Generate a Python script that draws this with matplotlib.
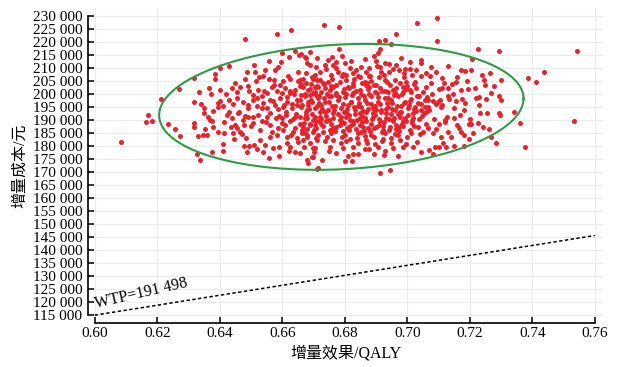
"""
增量成本-效果散点图 (概率敏感性分析)
- 红点: 蒙特卡洛模拟结果, 绿色椭圆: 置信区域, 虚线: WTP 阈值
"""
import numpy as np
import matplotlib
matplotlib.use("Agg")
import matplotlib.pyplot as plt
from matplotlib.ticker import FuncFormatter

plt.rcParams["font.family"] = ["Liberation Serif", "Noto Sans CJK SC"]

# (增量效果 QALY, 增量成本 千元) -- 估计值
left_pts = [
    (0.6480, 221.2), (0.6583, 223.2), (0.6629, 224.6), (0.6640, 216.5), (0.6655, 214.9),
    (0.6673, 214.1), (0.6620, 214.1), (0.6558, 212.6), (0.6596, 212.3), (0.6678, 211.8),
    (0.6431, 210.8), (0.6401, 210.0), (0.6577, 209.2), (0.6513, 208.3), (0.6487, 208.3),
    (0.6385, 207.8), (0.6318, 206.2), (0.6384, 205.9), (0.6524, 206.4), (0.6539, 206.7),
    (0.6556, 205.6), (0.6573, 205.4), (0.6603, 205.0), (0.6624, 205.8), (0.6651, 205.1),
    (0.6667, 205.6), (0.6694, 206.4), (0.6710, 205.4), (0.6270, 201.8), (0.6212, 198.0),
    (0.6364, 202.2), (0.6333, 200.6), (0.6400, 201.4), (0.6371, 199.9), (0.6318, 197.0),
    (0.6439, 202.2), (0.6454, 200.9), (0.6464, 202.8), (0.6491, 203.1), (0.6494, 201.3),
    (0.6507, 199.6), (0.6523, 201.5), (0.6534, 199.0), (0.6550, 200.3), (0.6566, 202.6),
    (0.6582, 201.3), (0.6592, 203.5), (0.6608, 202.2), (0.6624, 200.3), (0.6640, 201.5),
    (0.6656, 203.1), (0.6672, 200.0), (0.6688, 201.8), (0.6704, 200.9), (0.6715, 202.8),
    (0.6348, 194.7), (0.6349, 192.6), (0.6363, 191.0), (0.6369, 190.0), (0.6379, 193.5),
    (0.6394, 195.1), (0.6400, 197.3), (0.6411, 195.4), (0.6430, 197.7), (0.6443, 196.1),
    (0.6456, 198.3), (0.6475, 197.0), (0.6491, 194.5), (0.6507, 197.7), (0.6518, 195.4),
    (0.6539, 196.4), (0.6550, 194.5), (0.6562, 197.7), (0.6576, 195.8), (0.6592, 198.3),
    (0.6603, 195.1), (0.6616, 197.0), (0.6630, 194.5), (0.6646, 197.7), (0.6662, 195.8),
    (0.6678, 193.8), (0.6694, 197.0), (0.6710, 195.4), (0.6170, 191.9), (0.6165, 189.2),
    (0.6184, 189.5), (0.6234, 188.3), (0.6257, 186.5), (0.6273, 183.7), (0.6318, 188.7),
    (0.6318, 187.2), (0.6330, 183.7), (0.6346, 184.0), (0.6360, 184.0), (0.6327, 176.9),
    (0.6337, 174.5), (0.6376, 177.6), (0.6409, 178.2), (0.6410, 180.9), (0.6084, 181.4),
    (0.6379, 187.4), (0.6395, 185.5), (0.6413, 185.0), (0.6437, 187.4), (0.6449, 188.2),
    (0.6443, 185.1), (0.6464, 185.3), (0.6483, 183.1), (0.6478, 180.0), (0.6495, 180.1),
    (0.6511, 180.5), (0.6486, 177.8), (0.6518, 178.7), (0.6528, 182.3), (0.6556, 175.5),
    (0.6538, 177.8), (0.6544, 180.2), (0.6571, 179.1), (0.6590, 179.7), (0.6614, 181.0),
    (0.6656, 177.4), (0.6678, 174.6), (0.6694, 175.9), (0.6710, 171.3), (0.6422, 191.9),
    (0.6438, 190.6), (0.6459, 192.6), (0.6475, 190.0), (0.6491, 191.3), (0.6507, 188.7),
    (0.6523, 191.9), (0.6534, 189.4), (0.6550, 191.3), (0.6562, 188.1), (0.6579, 190.6),
    (0.6598, 188.7), (0.6611, 191.9), (0.6624, 189.4), (0.6640, 191.3), (0.6656, 188.5),
    (0.6672, 190.6), (0.6688, 188.5), (0.6704, 191.3), (0.6718, 189.4), (0.6566, 185.5),
    (0.6582, 184.2), (0.6601, 186.2), (0.6616, 183.6), (0.6633, 185.5), (0.6646, 182.9),
    (0.6662, 185.1), (0.6678, 183.3), (0.6697, 185.5), (0.6712, 182.3), (0.6624, 179.7),
    (0.6640, 177.8), (0.6669, 179.7), (0.6699, 179.1),
]

right_pts = [
    (0.6732, 226.3), (0.6781, 225.6), (0.7032, 227.3), (0.7096, 229.0), (0.6964, 223.1),
    (0.7096, 220.5), (0.6910, 220.5), (0.6930, 220.9), (0.6948, 219.1), (0.6782, 217.3),
    (0.6914, 217.2), (0.7226, 217.4), (0.7293, 216.5), (0.7543, 216.3), (0.7208, 213.5),
    (0.7436, 208.4), (0.7387, 206.0), (0.7411, 204.5), (0.7535, 189.7), (0.7376, 179.7),
    (0.7362, 188.8), (0.7340, 193.0), (0.7294, 199.0), (0.7300, 197.6), (0.7292, 192.6),
    (0.7296, 191.9), (0.7300, 205.5), (0.7265, 208.1), (0.7239, 207.2), (0.7244, 205.4),
    (0.7248, 203.3), (0.7276, 203.1), (0.7283, 181.3), (0.7267, 183.6), (0.7260, 186.5),
    (0.7241, 187.3), (0.7232, 192.6), (0.7219, 198.6), (0.7229, 198.7), (0.7252, 198.2),
    (0.7268, 200.3), (0.7194, 201.8), (0.7186, 208.8), (0.7171, 209.1), (0.7203, 209.2),
    (0.7131, 210.9), (0.7197, 188.6), (0.7204, 188.6), (0.7225, 188.8), (0.7196, 182.6),
    (0.7180, 180.1), (0.7150, 180.0), (0.7125, 179.5), (0.7101, 179.6), (0.7090, 179.6),
    (0.7071, 178.5), (0.7081, 177.0), (0.7045, 177.8), (0.7018, 179.7), (0.6945, 170.9),
    (0.6913, 169.5), (0.6927, 176.5), (0.6893, 176.9), (0.6877, 178.7), (0.6824, 174.2),
    (0.6802, 174.2), (0.6842, 176.9), (0.6826, 176.9), (0.6772, 177.4), (0.6726, 174.6),
    (0.6681, 173.4), (0.6713, 171.6), (0.6697, 175.9), (0.7128, 191.1), (0.7148, 190.9),
    (0.7168, 191.9), (0.7181, 193.8), (0.7120, 189.9), (0.7122, 189.0), (0.7165, 186.9),
    (0.7172, 185.3), (0.7131, 185.3), (0.7109, 183.6), (0.7103, 188.3), (0.7083, 185.0),
    (0.7066, 187.0), (0.7035, 187.4), (0.7021, 187.7), (0.7104, 197.7), (0.7112, 202.4),
    (0.7118, 204.1), (0.7129, 202.2), (0.7143, 203.7), (0.7156, 204.4), (0.7173, 201.4),
    (0.7175, 198.1), (0.7157, 197.4), (0.7147, 199.9), (0.7129, 199.2), (0.7109, 194.9),
    (0.7099, 197.0), (0.7093, 196.3), (0.7081, 197.3), (0.7065, 197.7), (0.7061, 202.7),
    (0.7091, 208.3), (0.7061, 207.9), (0.7072, 207.0), (0.7044, 206.7), (0.7045, 211.8),
    (0.7016, 207.3), (0.7028, 209.1), (0.7008, 209.6), (0.6992, 209.5), (0.6988, 207.9),
    (0.6973, 209.1), (0.6953, 209.6), (0.6943, 208.3), (0.6928, 205.4), (0.6917, 208.4),
    (0.6911, 206.3), (0.6904, 210.8), (0.6899, 212.7), (0.6895, 214.5), (0.6879, 209.9),
    (0.6877, 207.0), (0.6885, 205.1), (0.6874, 201.9), (0.6869, 203.3), (0.6856, 204.2),
    (0.6836, 209.1), (0.6850, 206.5), (0.6827, 207.9), (0.6805, 207.2), (0.6811, 202.7),
    (0.6790, 206.8), (0.6771, 212.3), (0.6771, 209.9), (0.6758, 214.1), (0.6761, 211.2),
    (0.6737, 211.2), (0.6741, 209.4), (0.6720, 205.5), (0.6699, 205.9), (0.6677, 204.2),
    (0.6683, 201.5), (0.6675, 213.8), (0.6661, 215.4), (0.6800, 211.8), (0.6709, 210.5),
    (0.6688, 211.2), (0.6720, 208.6), (0.6853, 210.5), (0.6869, 208.6), (0.6928, 211.8),
    (0.6965, 211.2), (0.6677, 207.9), (0.6704, 207.3), (0.6757, 207.3), (0.6779, 208.6),
    (0.6816, 209.9), (0.6843, 206.7), (0.6880, 206.7), (0.6912, 210.5),
]

core_pts = [
    (0.6656, 205.4), (0.6704, 202.8), (0.6731, 204.1), (0.6747, 204.7), (0.6763, 202.6),
    (0.6784, 204.7), (0.6827, 204.1), (0.6944, 203.5), (0.6960, 205.4), (0.6976, 204.1),
    (0.6997, 204.7), (0.7029, 202.2), (0.7008, 201.5), (0.6987, 200.9), (0.6965, 202.2),
    (0.6939, 200.9), (0.6912, 202.2), (0.6896, 200.9), (0.6848, 201.5), (0.6827, 200.5),
    (0.6795, 200.9), (0.6773, 200.3), (0.6752, 201.5), (0.6725, 200.9), (0.6667, 202.8),
    (0.6709, 199.6), (0.6736, 202.2), (0.6805, 205.4), (0.6901, 203.5), (0.7024, 204.7),
    (0.7077, 204.1), (0.6656, 197.7), (0.6672, 199.0), (0.6693, 197.7), (0.6715, 198.3),
    (0.6736, 197.0), (0.6757, 199.0), (0.6779, 197.7), (0.6800, 198.7), (0.6821, 197.0),
    (0.6843, 198.3), (0.6864, 197.7), (0.6885, 199.0), (0.6907, 197.0), (0.6928, 198.3),
    (0.6949, 197.7), (0.6971, 199.0), (0.6992, 197.0), (0.7013, 198.0), (0.7035, 196.4),
    (0.7056, 197.7), (0.6661, 195.1), (0.6683, 195.8), (0.6704, 194.5), (0.6725, 195.8),
    (0.6747, 193.8), (0.6768, 195.4), (0.6789, 194.5), (0.6811, 195.8), (0.6832, 193.8),
    (0.6853, 195.1), (0.6875, 194.1), (0.6896, 195.4), (0.6917, 193.8), (0.6939, 195.1),
    (0.6960, 193.8), (0.6981, 195.4), (0.7003, 194.5), (0.7024, 195.1), (0.7045, 193.8),
    (0.7067, 195.1), (0.6677, 193.2), (0.6720, 193.2), (0.6763, 192.6), (0.6805, 193.2),
    (0.6848, 192.6), (0.6891, 192.8), (0.6933, 192.6), (0.6976, 193.2), (0.7019, 192.6),
    (0.7061, 193.2), (0.6656, 191.3), (0.6677, 191.9), (0.6699, 190.0), (0.6720, 191.3),
    (0.6741, 189.4), (0.6763, 190.6), (0.6784, 190.0), (0.6805, 191.3), (0.6827, 189.4),
    (0.6848, 190.6), (0.6869, 189.7), (0.6891, 191.3), (0.6912, 189.4), (0.6933, 190.6),
    (0.6955, 189.7), (0.6976, 191.3), (0.6997, 189.4), (0.7019, 190.6), (0.6667, 187.4),
    (0.6688, 188.1), (0.6709, 186.8), (0.6731, 187.7), (0.6752, 186.2), (0.6773, 187.4),
    (0.6795, 185.9), (0.6816, 187.7), (0.6837, 186.4), (0.6859, 187.4), (0.6880, 185.9),
    (0.6901, 187.2), (0.6923, 186.2), (0.6944, 187.4), (0.6965, 186.4), (0.6987, 187.7),
    (0.7008, 186.2), (0.6672, 184.9), (0.6715, 184.2), (0.6757, 184.9), (0.6800, 184.2),
    (0.6843, 184.9), (0.6885, 184.2), (0.6928, 184.9), (0.6971, 184.2), (0.7013, 185.1),
    (0.7051, 185.5), (0.6667, 182.3), (0.6688, 181.0), (0.6709, 182.9), (0.6736, 181.7),
    (0.6763, 182.3), (0.6789, 181.0), (0.6816, 182.6), (0.6843, 181.3), (0.6869, 182.3),
    (0.6896, 180.8), (0.6923, 182.6), (0.6949, 181.3), (0.6976, 182.3), (0.6997, 180.8),
    (0.6704, 179.1), (0.6752, 179.7), (0.6795, 179.1), (0.6827, 179.7), (0.6864, 178.7),
    (0.6907, 179.7), (0.6955, 179.1), (0.6987, 179.7),
]

extra_pts = [
    (0.6612, 193.1), (0.6634, 190.2), (0.6648, 195.9), (0.6668, 188.9), (0.6683, 196.8),
    (0.6695, 192.1), (0.6702, 186.1), (0.6719, 199.3), (0.6727, 194.0), (0.6741, 191.6),
    (0.6748, 196.9), (0.6756, 188.3), (0.6766, 193.9), (0.6773, 199.7), (0.6787, 191.0),
    (0.6793, 196.2), (0.6799, 188.8), (0.6808, 194.3), (0.6818, 190.1), (0.6822, 199.6),
    (0.6834, 192.3), (0.6841, 195.5), (0.6849, 187.9), (0.6857, 193.5), (0.6866, 190.9),
    (0.6872, 196.4), (0.6883, 188.6), (0.6889, 194.7), (0.6898, 191.8), (0.6906, 198.9),
    (0.6915, 192.9), (0.6921, 187.6), (0.6934, 196.6), (0.6941, 190.4), (0.6952, 194.1),
    (0.6963, 188.2), (0.6969, 192.4), (0.6982, 199.8), (0.6994, 190.8), (0.7006, 195.7),
    (0.7015, 188.8), (0.7027, 193.6), (0.7039, 199.2), (0.7048, 191.5), (0.7058, 195.0),
    (0.6625, 201.2), (0.6661, 203.9), (0.6690, 199.4), (0.6712, 202.9), (0.6744, 200.0),
    (0.6771, 203.3), (0.6797, 201.9), (0.6826, 203.0), (0.6852, 199.9), (0.6879, 202.6),
    (0.6903, 200.4), (0.6930, 201.1), (0.6958, 199.5), (0.6985, 202.7), (0.7012, 200.7),
    (0.6640, 186.7), (0.6678, 184.0), (0.6709, 189.7), (0.6731, 185.2), (0.6762, 187.0),
    (0.6790, 183.6), (0.6812, 186.0), (0.6838, 183.1), (0.6861, 185.7), (0.6893, 183.6),
    (0.6920, 185.4), (0.6947, 183.0), (0.6975, 185.9), (0.7000, 183.4), (0.6615, 198.7),
    (0.6600, 190.6), (0.6585, 194.0), (0.6570, 197.2), (0.6561, 192.5), (0.6548, 189.1),
    (0.6535, 194.7), (0.6520, 198.4), (0.6505, 191.0), (0.6490, 195.6), (0.6476, 188.1),
    (0.6463, 193.2), (0.6587, 186.8), (0.6560, 183.4), (0.6528, 186.0), (0.6610, 188.2),
    (0.6629, 184.1), (0.6598, 200.2), (0.6572, 203.6), (0.6540, 201.0), (0.6515, 205.1),
    (0.6617, 206.9), (0.6650, 208.3), (0.6700, 206.7), (0.6732, 203.8), (0.6760, 205.9),
    (0.6795, 207.7), (0.6830, 205.9), (0.6864, 204.5), (0.6895, 203.4), (0.6925, 207.1),
    (0.6955, 201.6), (0.6990, 206.4), (0.7020, 203.9), (0.7050, 200.6), (0.7070, 193.9),
    (0.7085, 190.5), (0.7060, 188.6), (0.7040, 184.4), (0.7092, 186.5), (0.7078, 199.8),
    (0.7100, 201.8), (0.7112, 195.9), (0.7135, 198.1), (0.7150, 194.6), (0.7160, 188.1),
    (0.7140, 183.6), (0.7115, 181.2), (0.7185, 196.6), (0.7200, 190.4), (0.7210, 185.0),
    (0.7230, 195.6), (0.7255, 192.5), (0.7190, 204.8), (0.7218, 202.4), (0.7180, 184.2),
    (0.7160, 206.5), (0.7110, 206.0), (0.7075, 210.5), (0.7045, 213.1), (0.7010, 212.1),
    (0.6980, 213.9), (0.6940, 211.5), (0.6905, 215.6), (0.6865, 213.4), (0.6820, 212.8),
    (0.6790, 214.6), (0.6745, 213.0), (0.6710, 213.9), (0.6690, 216.0), (0.6750, 178.0),
    (0.6810, 176.2), (0.6870, 181.0), (0.6930, 178.1), (0.6970, 176.3), (0.7030, 181.5),
    (0.6620, 178.2), (0.6590, 176.2), (0.6650, 181.6), (0.6700, 177.5), (0.6480, 191.4),
    (0.6455, 186.8), (0.6430, 192.9), (0.6415, 189.0), (0.6445, 182.5), (0.6470, 184.5),
    (0.6500, 187.6), (0.6395, 196.5), (0.6420, 199.8), (0.6450, 204.2), (0.6480, 205.8),
    (0.6510, 211.2), (0.6545, 209.0), (0.6585, 210.5), (0.6600, 215.6), (0.6375, 189.6),
    (0.6352, 186.4), (0.6340, 196.1),
]

# 中心密集区补充点
dense_pts = [
    (0.6631, 196.3), (0.6644, 192.4), (0.6659, 199.6), (0.6663, 186.3), (0.6679, 190.7),
    (0.6686, 194.0), (0.6697, 200.5), (0.6706, 188.0), (0.6716, 196.4), (0.6723, 190.3),
    (0.6734, 198.6), (0.6738, 193.1), (0.6751, 190.1), (0.6755, 202.9), (0.6760, 195.2),
    (0.6770, 185.6), (0.6778, 192.2), (0.6782, 198.9), (0.6786, 188.0), (0.6797, 193.0),
    (0.6803, 200.1), (0.6807, 186.7), (0.6813, 192.0), (0.6819, 196.9), (0.6825, 188.5),
    (0.6829, 194.9), (0.6836, 201.0), (0.6839, 190.1), (0.6845, 196.6), (0.6851, 185.5),
    (0.6855, 191.4), (0.6860, 199.0), (0.6868, 193.1), (0.6875, 187.0), (0.6878, 200.0),
    (0.6884, 196.0), (0.6887, 190.2), (0.6894, 186.9), (0.6900, 193.9), (0.6908, 190.4),
    (0.6913, 196.0), (0.6918, 201.3), (0.6926, 189.2), (0.6931, 194.0), (0.6937, 198.6),
    (0.6943, 186.0), (0.6947, 192.1), (0.6951, 196.6), (0.6958, 190.7), (0.6962, 200.4),
    (0.6967, 195.4), (0.6973, 187.1), (0.6979, 193.1), (0.6986, 189.7), (0.6989, 196.5),
    (0.6996, 201.8), (0.7001, 191.9), (0.7009, 197.4), (0.7014, 189.8), (0.7022, 194.3),
    (0.7031, 199.3), (0.7037, 190.3), (0.7043, 196.0), (0.7054, 192.7), (0.7063, 198.8),
    (0.6693, 203.7), (0.6748, 199.1), (0.6815, 202.4), (0.6870, 204.1), (0.6936, 204.6),
    (0.6999, 203.1), (0.6680, 186.6), (0.6742, 183.5), (0.6804, 181.9), (0.6866, 183.7),
    (0.6918, 181.7), (0.6960, 184.6), (0.6724, 188.6), (0.6790, 189.2), (0.6856, 189.0),
    (0.6910, 188.1), (0.6982, 188.4), (0.6637, 199.9), (0.6606, 195.6), (0.6590, 191.4),
]

# 置信椭圆参数 (中心, 水平共轭半轴, 竖直半轴)
ell_center = (0.6789, 195.0)
ell_axis_a = (0.0583, 3.2)
ell_axis_b = 24.0

wtp = 191498
wtp_qaly = [0.60, 0.76]

x_ticks = [0.60, 0.62, 0.64, 0.66, 0.68, 0.70, 0.72, 0.74, 0.76]
y_ticks = list(range(115000, 230001, 5000))


pts = np.array(left_pts + right_pts + core_pts + extra_pts + dense_pts)
qaly = pts[:, 0]
cost = pts[:, 1] * 1000

fig = plt.figure(figsize=(6.19, 3.67), dpi=100)
ax = fig.add_axes([0.142, 0.120, 0.832, 0.858])

ax.scatter(qaly, cost, s=13, color="#e8222c", linewidths=0, zorder=3)

t = np.linspace(0, 2 * np.pi, 400)
ex = ell_center[0] + ell_axis_a[0] * np.cos(t)
ey = (ell_center[1] + ell_axis_a[1] * np.cos(t) + ell_axis_b * np.sin(t)) * 1000
ax.plot(ex, ey, color="#2f9a45", lw=1.5, zorder=4)

wq = np.array(wtp_qaly)
ax.plot(wq, wq * wtp, color="black", lw=1.1, ls=(0, (2.2, 1.6)), zorder=2)
ax.text(0.6008, 116300, f"WTP={wtp:,}".replace(",", " "), rotation=13,
        rotation_mode="anchor", ha="left", va="bottom", fontsize=11.5)

ax.set_xlim(0.5978, 0.7626)
ax.set_ylim(111900, 233000)
ax.set_xticks(x_ticks)
ax.set_yticks(y_ticks)
ax.xaxis.set_major_formatter(FuncFormatter(lambda v, p: f"{v:.2f}"))
ax.yaxis.set_major_formatter(FuncFormatter(lambda v, p: f"{int(round(v)):,}".replace(",", " ")))
ax.tick_params(direction="in", length=4, width=1.1, labelsize=11, pad=3)
ax.tick_params(axis="y", pad=4)

ax.grid(True, color="#e9ecef", lw=0.8, zorder=0)
for s in ["top", "right"]:
    ax.spines[s].set_visible(False)
ax.spines["left"].set_linewidth(1.2)
ax.spines["bottom"].set_linewidth(1.2)
ax.spines["left"].set_bounds(115000, 230000)
ax.spines["bottom"].set_bounds(0.60, 0.76)

ax.set_xlabel("增量效果/QALY", fontsize=11.5, labelpad=4)
ax.set_ylabel("增量成本/元", fontsize=11.5, labelpad=3)

fig.savefig("out.png", dpi=100)
